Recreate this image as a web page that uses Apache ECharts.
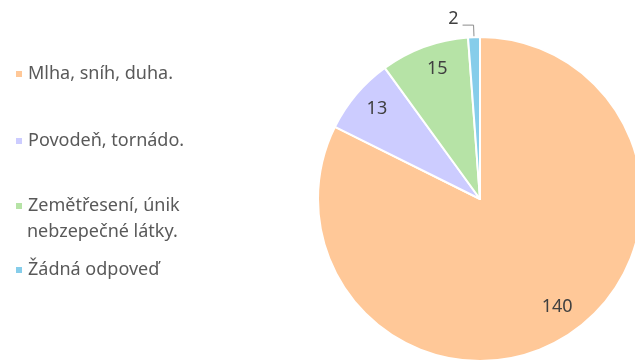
<!DOCTYPE html>
<html>
<head>
<meta charset="utf-8">
<script src="https://cdn.jsdelivr.net/npm/echarts@6/dist/echarts.min.js"></script>
<style>
  html, body { margin: 0; padding: 0; background: #fff; }
  #chart { width: 635px; height: 362px; }
</style>
</head>
<body>
<div id="chart"></div>
<script>
// Answers and counts
const categories = [
  'Mlha, sníh, duha.',
  'Povodeň, tornádo.',
  'Zemětřesení, únik nebzepečné látky.',
  'Žádná odpoveď'
];
const values = [140, 13, 15, 2];
const colors = ['#FFC898', '#CCCCFF', '#B6E3A6', '#86CDEA'];
// Legend lines: first line beside the marker, optional continuation below
const legendFirstLine = ['Mlha, sníh, duha.', 'Povodeň, tornádo.', 'Zemětřesení, únik', 'Žádná odpoveď'];
const legendSecondLine = ['', '', 'nebzepečné látky.', ''];
const legendCenters = [74, 141, 206, 270];
const LINE_STEP = 26;
// Nudges of the value labels: left padding (px) and upward lift (px)
const labelPadLeft = [8, 6, 10, 0];
const labelLift = [10, 0, 0, 6];

const FONT = 'Noto Sans';
const FONT_SIZE = 18;
const TEXT_COLOR = '#595959';
const chart = echarts.init(document.getElementById('chart'), null, { renderer: 'canvas' });

// a label lifted by L px: two lines of height 2L, the value on the upper one
function valueLabel(i, show) {
  const lift = labelLift[i];
  return {
    show: show,
    formatter: lift ? String(values[i]) + '\n ' : String(values[i]),
    lineHeight: lift ? lift * 2 : undefined,
    padding: [0, 0, 0, labelPadLeft[i]]
  };
}

const pieData = categories.map((name, i) => ({
  name: name,
  value: values[i],
  itemStyle: { color: colors[i] }
}));

const legends = categories.map((name, i) => ({
  data: [name],
  left: 14,
  top: legendCenters[i] - 12,
  height: 24,
  padding: 0,
  orient: 'vertical',
  icon: 'rect',
  itemWidth: 8,
  itemHeight: 8,
  selectedMode: false,
  formatter: () => legendFirstLine[i],
  textStyle: { fontFamily: FONT, fontSize: FONT_SIZE, color: TEXT_COLOR, lineHeight: 24, padding: 0 }
}));

const continuation = legendSecondLine
  .map((t, i) => ({ t, i }))
  .filter(o => o.t)
  .map(o => ({
    text: o.t,
    left: 27,
    top: legendCenters[o.i] + LINE_STEP - 12,
    padding: 0,
    textStyle: { fontFamily: FONT, fontSize: FONT_SIZE, fontWeight: 'normal', color: TEXT_COLOR, lineHeight: 24 }
  }));

chart.setOption({
  animation: false,
  color: colors,
  legend: legends,
  title: continuation,
  series: [
    {
      type: 'pie',
      center: [480, 199],
      radius: [0, 162],
      startAngle: 90,
      clockwise: true,
      itemStyle: { borderColor: '#ffffff', borderWidth: 2 },
      label: {
        position: 'outside',
        fontFamily: FONT,
        fontSize: FONT_SIZE,
        color: '#404040',
        distanceToLabelLine: 4
      },
      labelLine: {
        length: 12,
        length2: 11,
        lineStyle: { color: '#8c8c8c', width: 1 }
      },
      data: pieData.map((d, i) => Object.assign({}, d, {
        labelLine: { show: d.value < 5 },
        label: valueLabel(i, d.value < 5)
      }))
    },
    {
      // value labels placed near the rim
      type: 'pie',
      center: [480, 199],
      radius: [119, 153],
      startAngle: 90,
      clockwise: true,
      silent: true,
      itemStyle: { color: 'rgba(0,0,0,0)' },
      label: {
        position: 'inside',
        fontFamily: FONT,
        fontSize: FONT_SIZE,
        color: '#404040'
      },
      labelLine: { show: false },
      data: pieData.map((d, i) => ({
        name: d.name,
        value: d.value,
        itemStyle: { color: 'rgba(0,0,0,0)' },
        label: valueLabel(i, d.value >= 5)
      }))
    }
  ]
});
</script>
</body>
</html>
